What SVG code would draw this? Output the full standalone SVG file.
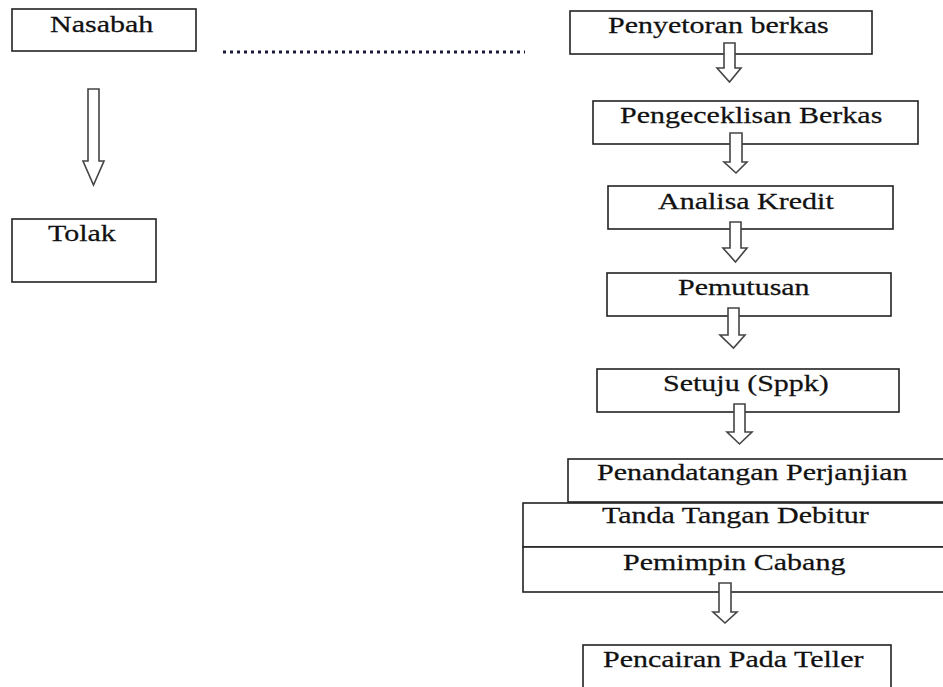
<svg xmlns="http://www.w3.org/2000/svg" width="943" height="687" viewBox="0 0 943 687">
<style>
.box{fill:#fff;stroke:#222;stroke-width:1.6}
.t{font-family:"Liberation Serif","Times New Roman",serif;font-size:24px;fill:#111;stroke:#111;stroke-width:0.25}
.arr{fill:#fff;stroke:#444;stroke-width:1.6;stroke-linejoin:miter}
.dot{fill:none;stroke:#1a1a3a;stroke-width:3;stroke-dasharray:3 4}
</style>
<rect width="943" height="687" fill="#fff"/>
<g id="nasabah"><rect class="box" x="12" y="9" width="184" height="42"/><text class="t" transform="translate(50,32) scale(1.25,1)">Nasabah</text></g>
<g id="tolak"><rect class="box" x="12" y="219" width="144" height="63"/><text class="t" transform="translate(48,241) scale(1.25,1)">Tolak</text></g>
<g id="penyetoran"><rect class="box" x="570" y="11" width="302" height="43"/><text class="t" transform="translate(608,33) scale(1.25,1)">Penyetoran berkas</text></g>
<g id="pengeceklisan"><rect class="box" x="593" y="101" width="325" height="43"/><text class="t" transform="translate(620,123) scale(1.25,1)">Pengeceklisan Berkas</text></g>
<g id="analisa"><rect class="box" x="608" y="186" width="285" height="43"/><text class="t" transform="translate(658,209) scale(1.25,1)">Analisa Kredit</text></g>
<g id="pemutusan"><rect class="box" x="607" y="273" width="284" height="43"/><text class="t" transform="translate(678,295) scale(1.25,1)">Pemutusan</text></g>
<g id="setuju"><rect class="box" x="597" y="369" width="302" height="43"/><text class="t" transform="translate(663,391) scale(1.25,1)">Setuju (Sppk)</text></g>
<g id="penandatangan"><rect class="box" x="568" y="459" width="390" height="43"/><text class="t" transform="translate(597,480) scale(1.25,1)">Penandatangan Perjanjian</text></g>
<g id="tanda-tangan"><rect class="box" x="523" y="503" width="435" height="44"/><text class="t" transform="translate(602,523) scale(1.25,1)">Tanda Tangan Debitur</text></g>
<g id="pemimpin"><rect class="box" x="523" y="547" width="435" height="45"/><text class="t" transform="translate(623,570) scale(1.25,1)">Pemimpin Cabang</text></g>
<g id="pencairan"><rect class="box" x="583" y="645" width="308" height="60"/><text class="t" transform="translate(603,667) scale(1.25,1)">Pencairan Pada Teller</text></g>
<g id="connectors">
<line class="dot" x1="223" y1="52" x2="525" y2="52"/>
<polygon class="arr" points="88,89 99,89 99,161 104,161 93.5,185 83,161 88,161"/>
<polygon class="arr" points="724,43 735,43 735,68 741,68 729.5,82 717,68 724,68"/>
<polygon class="arr" points="730,133 742,133 742,162 747,162 736,173 724,162 730,162"/>
<polygon class="arr" points="730,222 741,222 741,248 747,248 735.5,262 723,248 730,248"/>
<polygon class="arr" points="728,308 739,308 739,335 745,335 733.5,348 720,335 728,335"/>
<polygon class="arr" points="734,404 745,404 745,432 752,432 739.5,444 727,432 734,432"/>
<polygon class="arr" points="719,583 731,583 731,612 737,612 725,623 713,612 719,612"/>
</g>
</svg>
